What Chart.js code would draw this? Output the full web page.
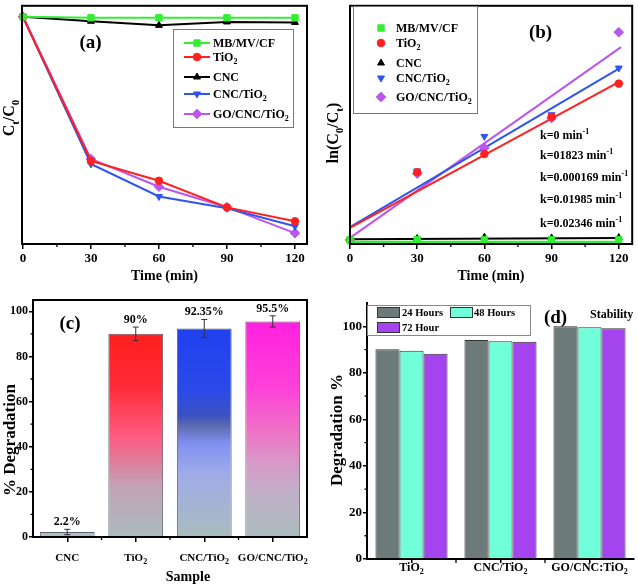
<!DOCTYPE html>
<html><head><meta charset="utf-8">
<script src="https://cdn.jsdelivr.net/npm/chart.js@4.4.1/dist/chart.umd.min.js"></script>
<style>
html,body{margin:0;padding:0;background:#fff;}
#wrap{position:relative;width:638px;height:587px;overflow:hidden;background:#fff;}
.p{position:absolute;}
</style></head><body>
<div id="wrap">
<div class="p" style="left:0;top:0;width:318px;height:290px"><canvas id="ca"></canvas></div>
<div class="p" style="left:318px;top:0;width:320px;height:290px"><canvas id="cb"></canvas></div>
<div class="p" style="left:0;top:290px;width:318px;height:297px"><canvas id="cc"></canvas></div>
<div class="p" style="left:318px;top:290px;width:320px;height:297px"><canvas id="cd"></canvas></div>
</div>
<script>
// ---------- DATA ----------
const timeMin = [0, 30, 60, 90, 120];
const timeTicks = [0, 30, 60, 90, 120];
const timeMinorTicks = [15, 45, 75, 105];
const seriesNames = ['MB/MV/CF', 'TiO₂', 'CNC', 'CNC/TiO₂', 'GO/CNC/TiO₂'];

// (a) Ct/C0 vs time
const ctMB      = [1, 0.995, 0.995, 0.995, 0.995];
const ctTiO2    = [1, 0.365, 0.278, 0.161, 0.100];
const ctCNC     = [1, 0.980, 0.962, 0.977, 0.975];
const ctCNCTiO2 = [1, 0.352, 0.209, 0.157, 0.078];
const ctGO      = [1, 0.374, 0.252, 0.162, 0.048];

// (b) ln(C0/Ct) vs time
const lnMB      = [0, 0.005, 0.005, 0.005, 0.005];
const lnTiO2    = [0, 1.00, 1.27, 1.82, 2.31];
const lnCNC     = [0, 0.02, 0.04, 0.03, 0.035];
const lnCNCTiO2 = [0, 1.02, 1.53, 1.85, 2.54];
const lnGO      = [0, 0.98, 1.36, 1.80, 3.07];
// linear fits: values at fitX
const fitX        = [0, 121];
const fitMB       = [-0.03, -0.03];
const fitTiO2     = [0.18, 2.35];
const fitCNC      = [0.01, 0.03];
const fitCNCTiO2  = [0.19, 2.55];
const fitGO       = [0.03, 2.85];
const rateLabels = ['k=0 min⁻¹', 'k=01823 min⁻¹', 'k=0.000169 min⁻¹', 'k=0.01985 min⁻¹', 'k=0.02346 min⁻¹'];

// (c) % degradation
const samples = ['CNC', 'TiO₂', 'CNC/TiO₂', 'GO/CNC/TiO₂'];
const degradation = [2.2, 90, 92.35, 95.5];
const degradationErr = [1.2, 3, 4, 2.5];
const degradationLabels = ['2.2%', '90%', '92.35%', '95.5%'];
const pctTicks = [0, 20, 40, 60, 80, 100];
const pctMinorTicks = [10, 30, 50, 70, 90];

// (d) stability
const stabilitySamples = ['TiO₂', 'CNC/TiO₂', 'GO/CNC:TiO₂'];
const stabilityNames = ['24 Hours', '48 Hours', '72 Hour'];
const stab24 = [90.1, 94.1, 100];
const stab48 = [89.5, 93.6, 99.6];
const stab72 = [88.2, 93.3, 99.1];

// ---------- STYLE ----------
const FF = '"Liberation Serif","Times New Roman",serif';
Chart.defaults.font.family = FF;
Chart.defaults.color = '#000';
Chart.defaults.animation = false;
const seriesColors = ['#33ee33', '#ff2020', '#000000', '#2f55ee', '#bb55ee'];
const seriesMarkers = ['rect', 'circle', 'triangle', 'triangle', 'rectRot'];
const seriesRotation = [0, 0, 0, 180, 0];
const seriesRadius = [4.5, 3.8, 4, 4, 4.8];
const barGradients = [
  [[0, '#b4c2c4'], [1, '#aebcbe']],
  [[0, '#ff1f1f'], [0.25, '#ff2a35'], [0.5, '#ff5a80'], [0.62, '#e07a98'], [0.75, '#c4a2b6'], [1, '#a9bcbe']],
  [[0, '#2040f0'], [0.3, '#2c4ae8'], [0.42, '#3c52c0'], [0.47, '#5e6cb0'], [0.55, '#8090f0'], [0.7, '#a0ace8'], [1, '#a9bcbe']],
  [[0, '#ff20e0'], [0.3, '#ff40d8'], [0.5, '#f070c8'], [0.65, '#d898c8'], [0.8, '#c0b0c8'], [1, '#a9bcbe']]
];
const stabColors = ['#6d7a7a', '#70ffd8', '#a444ee'];

// ---------- HELPERS ----------
const SUB = {'₀':'0','₁':'1','₂':'2','₃':'3','ₜ':'t'};
const SUP = {'⁻':'-','¹':'1'};
function segs(text) {
  const out = [];
  for (const ch of text) {
    let type = 'n', c = ch;
    if (SUB[ch]) { type = 'sub'; c = SUB[ch]; }
    else if (SUP[ch]) { type = 'sup'; c = SUP[ch]; }
    const last = out[out.length - 1];
    if (last && last.type === type) last.t += c; else out.push({type, t: c});
  }
  return out;
}
function drawRich(ctx, text, x, y, size, align, color) {
  const parts = segs(text);
  const fontFor = t => 'bold ' + (t === 'n' ? size : Math.round(size * 0.7)) + 'px ' + FF;
  let w = 0;
  for (const p of parts) { ctx.font = fontFor(p.type); p.w = ctx.measureText(p.t).width; w += p.w; }
  let cx = align === 'center' ? x - w / 2 : align === 'right' ? x - w : x;
  ctx.save();
  ctx.fillStyle = color || '#000';
  ctx.textAlign = 'left';
  ctx.textBaseline = 'alphabetic';
  const base = y + size * 0.33;
  for (const p of parts) {
    ctx.font = fontFor(p.type);
    const dy = p.type === 'sub' ? size * 0.28 : p.type === 'sup' ? -size * 0.42 : 0;
    ctx.fillText(p.t, cx, base + dy);
    cx += p.w;
  }
  ctx.restore();
}
function drawRichRot(ctx, text, x, y, size) {
  ctx.save(); ctx.translate(x, y); ctx.rotate(-Math.PI / 2);
  drawRich(ctx, text, 0, 0, size, 'center'); ctx.restore();
}
function mark(ctx, k, x, y) {
  ctx.save();
  ctx.fillStyle = seriesColors[k]; ctx.strokeStyle = seriesColors[k];
  Chart.helpers.drawPoint(ctx, {pointStyle: seriesMarkers[k], rotation: seriesRotation[k], radius: seriesRadius[k], borderWidth: 1}, x, y);
  ctx.restore();
}
function framePlugin(w) {
  return {id: 'frame', afterDraw(chart) {
    const a = chart.chartArea, ctx = chart.ctx;
    ctx.save(); ctx.strokeStyle = '#000'; ctx.lineWidth = w;
    ctx.strokeRect(a.left, a.top, a.right - a.left, a.bottom - a.top); ctx.restore();
  }};
}
function minorPlugin(axisId, values, len) {
  return {id: 'minor' + axisId, afterDraw(chart) {
    const s = chart.scales[axisId], a = chart.chartArea, ctx = chart.ctx;
    ctx.save(); ctx.strokeStyle = '#000'; ctx.lineWidth = 1.3; ctx.beginPath();
    for (const v of values) {
      const p = s.getPixelForValue(v);
      if (s.isHorizontal()) { ctx.moveTo(p, a.bottom); ctx.lineTo(p, a.bottom + len); }
      else { ctx.moveTo(a.left, p); ctx.lineTo(a.left - len, p); }
    }
    ctx.stroke(); ctx.restore();
  }};
}
function linearX(min, max, height) {
  return {
    type: 'linear', min, max,
    afterBuildTicks: s => { s.ticks = timeTicks.map(v => ({value: v})); },
    afterFit: s => { s.height = height; },
    grid: {drawOnChartArea: false, color: '#000', lineWidth: 1.5, tickLength: 5},
    border: {color: '#000', width: 2},
    ticks: {font: {size: 13, weight: 'bold'}, color: '#000', padding: 2, maxRotation: 0, autoSkip: false}
  };
}
const baseOpts = {responsive: true, maintainAspectRatio: false, animation: false, events: [],
  plugins: {legend: {display: false}, tooltip: {enabled: false}}};

// ---------- (a) ----------
const aSeries = [ctMB, ctTiO2, ctCNC, ctCNCTiO2, ctGO];
new Chart(document.getElementById('ca'), {
  type: 'line',
  data: {datasets: aSeries.map((arr, k) => ({
    label: seriesNames[k],
    data: timeMin.map((t, i) => ({x: t, y: arr[i]})),
    borderColor: seriesColors[k], backgroundColor: seriesColors[k],
    pointStyle: seriesMarkers[k], pointRotation: seriesRotation[k], pointRadius: seriesRadius[k],
    pointBorderWidth: 1, borderWidth: 2, tension: 0, clip: false
  }))},
  options: Object.assign({}, baseOpts, {
    layout: {padding: {left: 0, top: 3, right: 11, bottom: 0}},
    scales: {
      x: linearX(-0.4, 125.3, 46),
      y: {min: 0, max: 1.048, afterFit: s => { s.width = 22; },
          ticks: {display: false}, grid: {display: false}, border: {color: '#000', width: 2}}
    }
  }),
  plugins: [framePlugin(2), minorPlugin('x', timeMinorTicks, 3), {id: 'annA', afterDraw(chart) {
    const ctx = chart.ctx;
    ctx.save(); ctx.strokeStyle = '#777'; ctx.lineWidth = 1; ctx.strokeRect(173.5, 29.5, 120, 98); ctx.restore();
    const rows = [43, 57, 77, 94, 114];
    rows.forEach((y, k) => {
      ctx.save(); ctx.strokeStyle = seriesColors[k]; ctx.lineWidth = 2;
      ctx.beginPath(); ctx.moveTo(184, y); ctx.lineTo(210, y); ctx.stroke(); ctx.restore();
      mark(ctx, k, 197, y);
      drawRich(ctx, seriesNames[k], 213, y, 12, 'left');
    });
    drawRich(ctx, '(a)', 90.5, 42, 19, 'center');
    drawRich(ctx, 'Time (min)', 164.5, 275, 14, 'center');
    drawRichRot(ctx, 'Cₜ/C₀', 9, 118, 16);
  }}]
});

// ---------- (b) ----------
const bSeries = [lnMB, lnTiO2, lnCNC, lnCNCTiO2, lnGO];
const bFits = [fitMB, fitTiO2, fitCNC, fitCNCTiO2, fitGO];
const bPointSets = bSeries.map((arr, k) => ({
  label: seriesNames[k],
  data: timeMin.map((t, i) => ({x: t, y: arr[i]})),
  showLine: false, borderColor: seriesColors[k], backgroundColor: seriesColors[k],
  pointStyle: seriesMarkers[k], pointRotation: seriesRotation[k], pointRadius: seriesRadius[k],
  pointBorderWidth: 1, clip: false
}));
const bFitSets = bFits.map((arr, k) => ({
  label: seriesNames[k] + ' fit',
  data: fitX.map((t, i) => ({x: t, y: arr[i]})),
  showLine: true, borderColor: seriesColors[k], borderWidth: k === 0 ? 2.5 : 2, pointRadius: 0, tension: 0, clip: false
}));
new Chart(document.getElementById('cb'), {
  type: 'scatter',
  data: {datasets: bPointSets.concat(bFitSets)},
  options: Object.assign({}, baseOpts, {
    layout: {padding: {left: 0, top: 3, right: 5, bottom: 0}},
    scales: {
      x: linearX(0, 126, 46),
      y: {min: -0.06, max: 3.46, afterFit: s => { s.width = 32; },
          ticks: {display: false}, grid: {display: false}, border: {color: '#000', width: 2}}
    }
  }),
  plugins: [framePlugin(2), minorPlugin('x', timeMinorTicks, 3), {id: 'annB', afterDraw(chart) {
    const ctx = chart.ctx;
    ctx.save(); ctx.strokeStyle = '#777'; ctx.lineWidth = 1; ctx.strokeRect(35.5, 6.5, 124, 107); ctx.restore();
    const rows = [28, 43, 63, 78, 97];
    rows.forEach((y, k) => {
      mark(ctx, k, 63, y);
      drawRich(ctx, seriesNames[k], 78, y, 12, 'left');
    });
    drawRich(ctx, '(b)', 222.5, 32, 19, 'center');
    const kRows = [135, 155, 177, 199, 223];
    kRows.forEach((y, i) => drawRich(ctx, rateLabels[i], 222, y, 12, 'left'));
    drawRich(ctx, 'Time (min)', 173, 275, 14, 'center');
    drawRichRot(ctx, 'ln(C₀/Cₜ)', 15, 133, 16);
  }}]
});

// ---------- (c) ----------
function gradFor(c) {
  const chart = c.chart, i = c.dataIndex;
  if (!chart.chartArea || i === undefined) return '#b0c0c0';
  const ys = chart.scales.y;
  const top = ys.getPixelForValue(degradation[i]), bot = ys.getPixelForValue(0);
  const g = chart.ctx.createLinearGradient(0, top, 0, bot);
  barGradients[i].forEach(([o, col]) => g.addColorStop(o, col));
  return g;
}
new Chart(document.getElementById('cc'), {
  type: 'bar',
  data: {labels: samples, datasets: [{
    label: '% Degradation', data: degradation, backgroundColor: gradFor,
    borderColor: '#5c6070', borderWidth: 1, barPercentage: 0.8, categoryPercentage: 1
  }]},
  options: Object.assign({}, baseOpts, {
    layout: {padding: {left: 0, top: 10, right: 11, bottom: 0}},
    scales: {
      x: {afterFit: s => { s.height = 50; }, ticks: {display: false},
          grid: {drawOnChartArea: false, offset: false, color: '#000', lineWidth: 1.5, tickLength: 5},
          border: {color: '#000', width: 2}},
      y: {min: 0, max: 105, afterBuildTicks: s => { s.ticks = pctTicks.map(v => ({value: v})); },
          afterFit: s => { s.width = 33; },
          ticks: {font: {size: 12, weight: 'bold'}, color: '#000', padding: 1},
          grid: {drawOnChartArea: false, color: '#000', lineWidth: 1.5, tickLength: 4},
          border: {color: '#000', width: 2}}
    }
  }),
  plugins: [framePlugin(2), minorPlugin('y', pctMinorTicks, 2.5), minorPlugin('x', [0.5, 1.5, 2.5], 3), {id: 'annC', afterDraw(chart) {
    const ctx = chart.ctx, xs = chart.scales.x, ys = chart.scales.y;
    ctx.save(); ctx.strokeStyle = '#333'; ctx.lineWidth = 1;
    degradation.forEach((v, i) => {
      const x = xs.getPixelForValue(i);
      const t = ys.getPixelForValue(v + degradationErr[i]), b = ys.getPixelForValue(v - degradationErr[i]);
      ctx.beginPath(); ctx.moveTo(x, t); ctx.lineTo(x, b);
      ctx.moveTo(x - 3, t); ctx.lineTo(x + 3, t); ctx.moveTo(x - 3, b); ctx.lineTo(x + 3, b); ctx.stroke();
    });
    ctx.restore();
    degradation.forEach((v, i) => {
      const x = xs.getPixelForValue(i);
      const t = ys.getPixelForValue(v + degradationErr[i]);
      drawRich(ctx, degradationLabels[i], x, t - 8, 12, 'center');
      drawRich(ctx, samples[i], x, 267, 11, 'center');
    });
    drawRich(ctx, '(c)', 70, 33, 19, 'center');
    drawRich(ctx, 'Sample', 188, 286, 14, 'center');
    drawRichRot(ctx, '% Degradation', 9, 150, 17);
  }}]
});

// ---------- (d) ----------
const dSeries = [stab24, stab48, stab72];
new Chart(document.getElementById('cd'), {
  type: 'bar',
  data: {labels: stabilitySamples, datasets: dSeries.map((arr, k) => ({
    label: stabilityNames[k], data: arr, backgroundColor: stabColors[k],
    borderColor: '#333', borderWidth: 1, barPercentage: 1, categoryPercentage: 0.81
  }))},
  options: Object.assign({}, baseOpts, {
    layout: {padding: {left: 0, top: 13, right: 4, bottom: 0}},
    scales: {
      x: {afterFit: s => { s.height = 28; }, ticks: {display: false},
          grid: {drawOnChartArea: false, offset: false, color: '#000', lineWidth: 1.5, tickLength: 4},
          border: {color: '#000', width: 2}},
      y: {min: 0, max: 110, afterBuildTicks: s => { s.ticks = pctTicks.map(v => ({value: v})); },
          afterFit: s => { s.width = 49; },
          ticks: {font: {size: 13, weight: 'bold'}, color: '#000', padding: 1},
          grid: {drawOnChartArea: false, color: '#000', lineWidth: 1.5, tickLength: 4},
          border: {color: '#000', width: 2}}
    }
  }),
  plugins: [minorPlugin('y', pctMinorTicks, 2.5), minorPlugin('x', [0.5, 1.5], 4), {id: 'annD', afterDraw(chart) {
    const ctx = chart.ctx, xs = chart.scales.x;
    ctx.save(); ctx.strokeStyle = '#888'; ctx.lineWidth = 1; ctx.strokeRect(49.5, 15.5, 163, 30);
    const sw = [[59, 17], [132, 17], [59, 32]];
    const tx = [[84, 23], [156, 23], [84, 38]];
    sw.forEach(([x, y], k) => {
      ctx.fillStyle = stabColors[k]; ctx.fillRect(x, y, 23, 11);
      ctx.strokeStyle = '#333'; ctx.strokeRect(x + 0.5, y + 0.5, 22, 10);
    });
    ctx.restore();
    tx.forEach(([x, y], k) => drawRich(ctx, stabilityNames[k], x, y, 10.5, 'left'));
    stabilitySamples.forEach((s, i) => drawRich(ctx, s, xs.getPixelForValue(i), 277, 12, 'center'));
    drawRich(ctx, '(d)', 237.5, 27, 19, 'center');
    drawRich(ctx, 'Stability', 272, 24, 12, 'left');
    drawRichRot(ctx, 'Degradation %', 18, 140, 17);
  }}]
});
</script>
</body></html>
